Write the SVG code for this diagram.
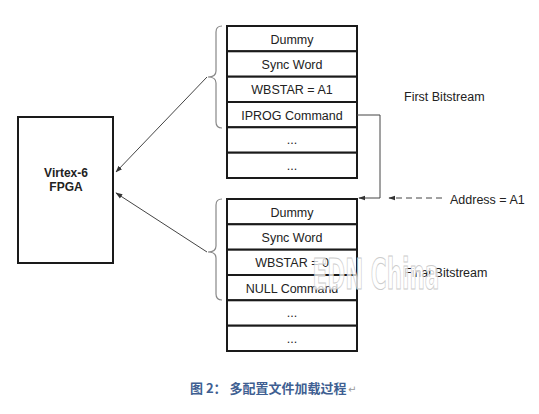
<svg xmlns="http://www.w3.org/2000/svg" width="539" height="414" viewBox="0 0 539 414">
<defs>
<style>
.cell{fill:#fff;stroke:#1a1a1a;stroke-width:2}
.t{font-family:"Liberation Sans",Arial,sans-serif;font-size:12.5px;fill:#222;text-anchor:middle}
.lbl{font-family:"Liberation Sans",Arial,sans-serif;font-size:12.5px;fill:#222}
.brace{fill:none;stroke:#888;stroke-width:1.2}
.ln{fill:none;stroke:#444;stroke-width:1}
</style>
<marker id="ah" viewBox="0 0 10 10" refX="9" refY="5" markerWidth="7" markerHeight="7" orient="auto" markerUnits="userSpaceOnUse">
<path d="M0,1.5 L10,5 L0,8.5 z" fill="#333"/>
</marker>
</defs>
<rect width="539" height="414" fill="#fff"/>

<g id="fpga">
<rect x="18" y="117" width="95" height="146" fill="#fff" stroke="#1a1a1a" stroke-width="2"/>
<text x="66" y="177" class="t" style="font-weight:bold;font-size:12px">Virtex-6</text>
<text x="66" y="191" class="t" style="font-weight:bold;font-size:12px">FPGA</text>
</g>

<g id="first-bitstream">
<rect class="cell" x="227" y="26" width="130" height="25.3"/>
<rect class="cell" x="227" y="51.3" width="130" height="25.4"/>
<rect class="cell" x="227" y="76.7" width="130" height="25.3"/>
<rect class="cell" x="227" y="102" width="130" height="25.3"/>
<rect class="cell" x="227" y="127.3" width="130" height="25.4"/>
<rect class="cell" x="227" y="152.7" width="130" height="25.3"/>
<text class="t" x="292" y="44">Dummy</text>
<text class="t" x="292" y="69">Sync Word</text>
<text class="t" x="292" y="94">WBSTAR = A1</text>
<text class="t" x="292" y="119.5">IPROG Command</text>
<text class="t" x="292" y="144">...</text>
<text class="t" x="292" y="169.5">...</text>
<path class="brace" d="M222,26 Q216,26 216,32 L216,71 Q216,77 208,77 Q216,77 216,83 L216,122 Q216,128 222,128"/>
<text class="lbl" x="404" y="101">First Bitstream</text>
</g>

<g id="final-bitstream">
<rect class="cell" x="227" y="199" width="130" height="25.3"/>
<rect class="cell" x="227" y="224.3" width="130" height="25.4"/>
<rect class="cell" x="227" y="249.7" width="130" height="25.3"/>
<rect class="cell" x="227" y="275" width="130" height="25.3"/>
<rect class="cell" x="227" y="300.3" width="130" height="25.4"/>
<rect class="cell" x="227" y="325.7" width="130" height="25.3"/>
<text class="t" x="292" y="217">Dummy</text>
<text class="t" x="292" y="242">Sync Word</text>
<text class="t" x="292" y="267">WBSTAR = 0</text>
<text class="t" x="292" y="292.5">NULL Command</text>
<text class="t" x="292" y="317">...</text>
<text class="t" x="292" y="342.5">...</text>
<path class="brace" d="M222,199 Q216,199 216,205 L216,246 Q216,252 208,252 Q216,252 216,258 L216,294 Q216,300 222,300"/>
<text class="lbl" x="404" y="277">Final Bitstream</text>
</g>

<g id="address">
<text class="lbl" x="450" y="204">Address = A1</text>
</g>

<g id="connectors">
<line class="ln" x1="207" y1="77" x2="116" y2="172" marker-end="url(#ah)"/>
<line class="ln" x1="207" y1="252" x2="116" y2="193" marker-end="url(#ah)"/>
<polyline class="ln" points="357,115 380,115 380,198 359,198" marker-end="url(#ah)"/>
<line class="ln" x1="442" y1="198" x2="389" y2="198" stroke-dasharray="6,4" marker-end="url(#ah)"/>
</g>

<text x="376" y="0" font-family="'Liberation Sans Narrow','DejaVu Sans Condensed',sans-serif" font-size="30" font-weight="bold" text-anchor="middle" fill="#fff" fill-opacity="0.75" stroke="#ccc" stroke-width="0.7" transform="translate(376 289) scale(0.8 1.4) translate(-376 0)">EDN China</text>

<g id="caption">
<text x="190" y="393" font-family="'Noto Sans CJK SC','Noto Sans',sans-serif" font-size="13" font-weight="bold" fill="#3f5f92">图 2： 多配置文件加载过程</text>
<text x="348" y="393" font-family="'DejaVu Sans',sans-serif" font-size="10" fill="#999">↵</text>
</g>
</svg>
